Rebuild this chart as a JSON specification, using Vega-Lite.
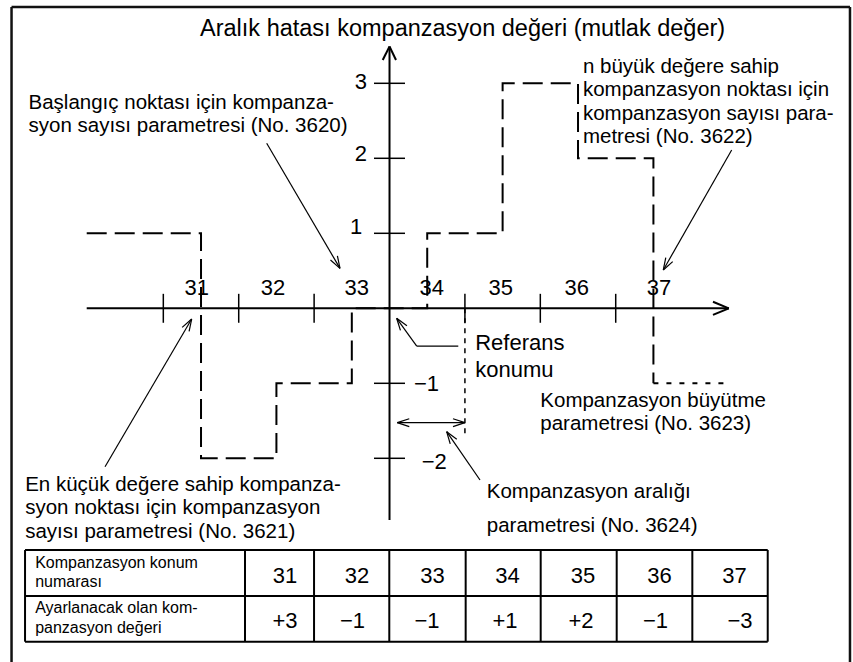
{
  "$schema": "https://vega.github.io/schema/vega-lite/v6.json",
  "width": 853,
  "height": 662,
  "autosize": "none",
  "padding": 0,
  "background": "white",
  "config": {"view": {"stroke": null}, "text": {"font": "Liberation Sans", "color": "black"}},
  "datasets": {
    "axes": [
      {"x": 29.484, "y": 0, "x2": 38.0, "y2": 0},
      {"x": 33.5, "y": -2.823, "x2": 33.5, "y2": 3.49},
      {"x": 37.79, "y": 0.087, "x2": 38.0, "y2": 0},
      {"x": 37.79, "y": -0.087, "x2": 38.0, "y2": 0},
      {"x": 33.41, "y": 3.311, "x2": 33.5, "y2": 3.49},
      {"x": 33.586, "y": 3.311, "x2": 33.5, "y2": 3.49}
    ],
    "ticks": [
      {"x": 30.5, "y": 0.193, "x2": 30.5, "y2": -0.193},
      {"x": 31.5, "y": 0.193, "x2": 31.5, "y2": -0.193},
      {"x": 32.5, "y": 0.193, "x2": 32.5, "y2": -0.193},
      {"x": 34.5, "y": 0.193, "x2": 34.5, "y2": -0.193},
      {"x": 35.5, "y": 0.193, "x2": 35.5, "y2": -0.193},
      {"x": 36.5, "y": 0.193, "x2": 36.5, "y2": -0.193},
      {"x": 33.294, "y": 3, "x2": 33.705, "y2": 3},
      {"x": 33.294, "y": 2, "x2": 33.705, "y2": 2},
      {"x": 33.294, "y": 1, "x2": 33.705, "y2": 1},
      {"x": 33.294, "y": -1, "x2": 33.705, "y2": -1},
      {"x": 33.294, "y": -2, "x2": 33.705, "y2": -2}
    ],
    "step": [
      {"x": 29.484, "y": 1, "i": 0},
      {"x": 31, "y": 1, "i": 1},
      {"x": 31, "y": -2, "i": 2},
      {"x": 32, "y": -2, "i": 3},
      {"x": 32, "y": -1, "i": 4},
      {"x": 33, "y": -1, "i": 5},
      {"x": 33, "y": 0, "i": 6},
      {"x": 34, "y": 0, "i": 7},
      {"x": 34, "y": 1, "i": 8},
      {"x": 35, "y": 1, "i": 9},
      {"x": 35, "y": 3, "i": 10},
      {"x": 36, "y": 3, "i": 11},
      {"x": 36, "y": 2, "i": 12},
      {"x": 37, "y": 2, "i": 13},
      {"x": 37, "y": -1, "i": 14}
    ],
    "dotted": [
      {"x": 37, "y": -1, "i": 0},
      {"x": 38.016, "y": -1, "i": 1}
    ],
    "interval": [
      {"x": 34.5, "y": 0, "x2": 34.5, "y2": -1.712}
    ],
    "arrows": [
      {"x": 31.871, "y": 2.2, "x2": 32.843, "y2": 0.533},
      {"x": 32.717, "y": 0.644, "x2": 32.843, "y2": 0.533},
      {"x": 32.809, "y": 0.698, "x2": 32.843, "y2": 0.533},
      {"x": 38.038, "y": 2.111, "x2": 37.131, "y2": 0.511},
      {"x": 37.164, "y": 0.676, "x2": 37.131, "y2": 0.511},
      {"x": 37.256, "y": 0.623, "x2": 37.131, "y2": 0.511},
      {"x": 29.727, "y": -2.112, "x2": 30.876, "y2": -0.143},
      {"x": 30.842, "y": -0.308, "x2": 30.876, "y2": -0.143},
      {"x": 30.75, "y": -0.254, "x2": 30.876, "y2": -0.143},
      {"x": 33.595, "y": -0.133, "x2": 33.861, "y2": -0.503},
      {"x": 33.861, "y": -0.503, "x2": 34.412, "y2": -0.503},
      {"x": 33.731, "y": -0.232, "x2": 33.595, "y2": -0.133},
      {"x": 33.645, "y": -0.294, "x2": 33.595, "y2": -0.133},
      {"x": 34.7, "y": -2.289, "x2": 34.258, "y2": -1.645},
      {"x": 34.392, "y": -1.747, "x2": 34.258, "y2": -1.645},
      {"x": 34.305, "y": -1.807, "x2": 34.258, "y2": -1.645},
      {"x": 33.603, "y": -1.525, "x2": 34.5, "y2": -1.525},
      {"x": 33.762, "y": -1.472, "x2": 33.603, "y2": -1.525},
      {"x": 33.762, "y": -1.578, "x2": 33.603, "y2": -1.525},
      {"x": 34.342, "y": -1.472, "x2": 34.5, "y2": -1.525},
      {"x": 34.342, "y": -1.578, "x2": 34.5, "y2": -1.525}
    ],
    "frame": [
      {"x": 28.487, "y": 4.017, "x2": 39.607, "y2": 4.017},
      {"x": 28.487, "y": 4.017, "x2": 28.487, "y2": -4.8},
      {"x": 39.607, "y": 4.017, "x2": 39.607, "y2": -4.8}
    ],
    "table": [
      {"x": 28.666, "y": -3.223, "x2": 38.516, "y2": -3.223},
      {"x": 28.666, "y": -3.836, "x2": 38.516, "y2": -3.836},
      {"x": 28.666, "y": -4.445, "x2": 38.516, "y2": -4.445},
      {"x": 28.666, "y": -3.223, "x2": 28.666, "y2": -4.445},
      {"x": 31.583, "y": -3.223, "x2": 31.583, "y2": -4.445},
      {"x": 32.499, "y": -3.223, "x2": 32.499, "y2": -4.445},
      {"x": 33.497, "y": -3.223, "x2": 33.497, "y2": -4.445},
      {"x": 34.51, "y": -3.223, "x2": 34.51, "y2": -4.445},
      {"x": 35.505, "y": -3.223, "x2": 35.505, "y2": -4.445},
      {"x": 36.513, "y": -3.223, "x2": 36.513, "y2": -4.445},
      {"x": 37.516, "y": -3.223, "x2": 37.516, "y2": -4.445},
      {"x": 38.516, "y": -3.223, "x2": 38.516, "y2": -4.445}
    ],
    "title": [
      {"x": 30.987, "y": 3.728, "text": "Aralık hatası kompanzasyon değeri (mutlak değer)"}
    ],
    "notes": [
      {"x": 28.712, "y": 2.733, "text": "Başlangıç noktası için kompanza-"},
      {"x": 28.712, "y": 2.427, "text": "syon sayısı parametresi (No. 3620)"},
      {"x": 36.065, "y": 3.217, "text": "n büyük değere sahip"},
      {"x": 36.065, "y": 2.907, "text": "kompanzasyon noktası için"},
      {"x": 36.065, "y": 2.595, "text": "kompanzasyon sayısı para-"},
      {"x": 36.065, "y": 2.284, "text": "metresi (No. 3622)"},
      {"x": 28.668, "y": -2.356, "text": "En küçük değere sahip kompanza-"},
      {"x": 28.668, "y": -2.667, "text": "syon noktası için kompanzasyon"},
      {"x": 28.668, "y": -2.979, "text": "sayısı parametresi (No. 3621)"},
      {"x": 35.5, "y": -1.232, "text": "Kompanzasyon büyütme"},
      {"x": 35.5, "y": -1.543, "text": "parametresi (No. 3623)"},
      {"x": 34.79, "y": -2.449, "text": "Kompanzasyon aralığı"},
      {"x": 34.79, "y": -2.905, "text": "parametresi (No. 3624)"}
    ],
    "ref": [
      {"x": 34.636, "y": -0.469, "text": "Referans"},
      {"x": 34.636, "y": -0.816, "text": "konumu"}
    ],
    "xlabels": [
      {"x": 30.943, "y": 0.277, "text": "31"},
      {"x": 31.955, "y": 0.277, "text": "32"},
      {"x": 33.065, "y": 0.277, "text": "33"},
      {"x": 34.06, "y": 0.277, "text": "34"},
      {"x": 34.975, "y": 0.277, "text": "35"},
      {"x": 35.983, "y": 0.277, "text": "36"},
      {"x": 37.074, "y": 0.277, "text": "37"}
    ],
    "ylabelsL": [
      {"x": 33.2, "y": 3.011, "text": "3"},
      {"x": 33.2, "y": 2.055, "text": "2"},
      {"x": 33.14, "y": 1.087, "text": "1"}
    ],
    "ylabelsR": [
      {"x": 33.825, "y": -1.012, "text": "−1"},
      {"x": 33.927, "y": -2.045, "text": "−2"}
    ],
    "tableText": [
      {"x": 28.8, "y": -3.456, "text": "Kompanzasyon konum"},
      {"x": 28.8, "y": -3.716, "text": "numarası"},
      {"x": 28.8, "y": -4.063, "text": "Ayarlanacak olan kom-"},
      {"x": 28.8, "y": -4.323, "text": "panzasyon değeri"}
    ],
    "tableNums": [
      {"x": 32.114, "y": -3.567, "text": "31"},
      {"x": 33.069, "y": -3.567, "text": "32"},
      {"x": 34.07, "y": -3.567, "text": "33"},
      {"x": 35.065, "y": -3.567, "text": "34"},
      {"x": 36.066, "y": -3.567, "text": "35"},
      {"x": 37.081, "y": -3.567, "text": "36"},
      {"x": 38.075, "y": -3.567, "text": "37"},
      {"x": 32.114, "y": -4.167, "text": "+3"},
      {"x": 33.009, "y": -4.167, "text": "−1"},
      {"x": 33.997, "y": -4.167, "text": "−1"},
      {"x": 35.032, "y": -4.167, "text": "+1"},
      {"x": 36.04, "y": -4.167, "text": "+2"},
      {"x": 37.028, "y": -4.167, "text": "−1"},
      {"x": 38.148, "y": -4.167, "text": "−3"}
    ]
  },
  "encoding": {
    "x": {"field": "x", "type": "quantitative", "scale": {"domain": [28.334, 39.647], "nice": false, "zero": false}, "axis": null},
    "y": {"field": "y", "type": "quantitative", "scale": {"domain": [-4.716, 4.1107], "nice": false, "zero": false}, "axis": null}
  },
  "layer": [
    {"data": {"name": "frame"}, "mark": {"type": "rule", "strokeWidth": 2.5, "color": "#111"}, "encoding": {"x2": {"field": "x2"}, "y2": {"field": "y2"}}},
    {"data": {"name": "table"}, "mark": {"type": "rule", "strokeWidth": 2, "color": "black"}, "encoding": {"x2": {"field": "x2"}, "y2": {"field": "y2"}}},
    {"data": {"name": "axes"}, "mark": {"type": "rule", "strokeWidth": 2, "color": "black"}, "encoding": {"x2": {"field": "x2"}, "y2": {"field": "y2"}}},
    {"data": {"name": "ticks"}, "mark": {"type": "rule", "strokeWidth": 1.5, "color": "black"}, "encoding": {"x2": {"field": "x2"}, "y2": {"field": "y2"}}},
    {"data": {"name": "interval"}, "mark": {"type": "rule", "strokeWidth": 1.5, "color": "black", "strokeDash": [5, 5]}, "encoding": {"x2": {"field": "x2"}, "y2": {"field": "y2"}}},
    {"data": {"name": "arrows"}, "mark": {"type": "rule", "strokeWidth": 1.2, "color": "black"}, "encoding": {"x2": {"field": "x2"}, "y2": {"field": "y2"}}},
    {"data": {"name": "step"}, "mark": {"type": "line", "strokeWidth": 2, "color": "black", "strokeDash": [20, 8]}, "encoding": {"order": {"field": "i", "type": "quantitative"}}},
    {"data": {"name": "dotted"}, "mark": {"type": "line", "strokeWidth": 2, "color": "black", "strokeDash": [5, 8]}, "encoding": {"order": {"field": "i", "type": "quantitative"}}},
    {"data": {"name": "title"}, "mark": {"type": "text", "fontSize": 23.5, "align": "left", "baseline": "middle"}, "encoding": {"text": {"field": "text"}}},
    {"data": {"name": "notes"}, "mark": {"type": "text", "fontSize": 20.5, "align": "left", "baseline": "middle"}, "encoding": {"text": {"field": "text"}}},
    {"data": {"name": "ref"}, "mark": {"type": "text", "fontSize": 22, "align": "left", "baseline": "middle"}, "encoding": {"text": {"field": "text"}}},
    {"data": {"name": "xlabels"}, "mark": {"type": "text", "fontSize": 22, "align": "center", "baseline": "middle"}, "encoding": {"text": {"field": "text"}}},
    {"data": {"name": "ylabelsL"}, "mark": {"type": "text", "fontSize": 22, "align": "right", "baseline": "middle"}, "encoding": {"text": {"field": "text"}}},
    {"data": {"name": "ylabelsR"}, "mark": {"type": "text", "fontSize": 22, "align": "left", "baseline": "middle"}, "encoding": {"text": {"field": "text"}}},
    {"data": {"name": "tableText"}, "mark": {"type": "text", "fontSize": 16, "align": "left", "baseline": "alphabetic"}, "encoding": {"text": {"field": "text"}}},
    {"data": {"name": "tableNums"}, "mark": {"type": "text", "fontSize": 22, "align": "center", "baseline": "middle"}, "encoding": {"text": {"field": "text"}}}
  ]
}
